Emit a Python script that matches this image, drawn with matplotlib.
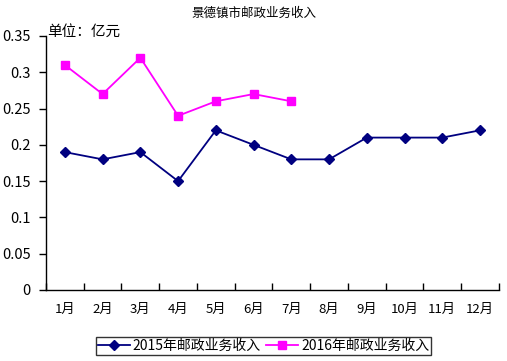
import matplotlib
matplotlib.use("Agg")
import matplotlib.pyplot as plt
from matplotlib.ticker import FixedLocator

plt.rcParams["font.family"] = ["Noto Sans CJK SC", "DejaVu Sans"]

months = ["1月", "2月", "3月", "4月", "5月", "6月", "7月", "8月", "9月", "10月", "11月", "12月"]
income_2015 = [0.19, 0.18, 0.19, 0.15, 0.22, 0.20, 0.18, 0.18, 0.21, 0.21, 0.21, 0.22]
income_2016 = [0.31, 0.27, 0.32, 0.24, 0.26, 0.27, 0.26]
y_ticks = [0, 0.05, 0.1, 0.15, 0.2, 0.25, 0.3, 0.35]
y_labels = ["0", "0.05", "0.1", "0.15", "0.2", "0.25", "0.3", "0.35"]

fig = plt.figure(figsize=(5.07, 3.61), dpi=100)
ax = fig.add_axes([0.0907, 0.1967, 0.8933, 0.7036])

x15 = list(range(len(income_2015)))
x16 = list(range(len(income_2016)))
ax.plot(x15, income_2015, color="#000080", lw=1.3, marker="D", ms=5,
        label="2015年邮政业务收入", clip_on=False)
ax.plot(x16, income_2016, color="#FF00FF", lw=1.3, marker="s", ms=6,
        label="2016年邮政业务收入", clip_on=False)

ax.set_xlim(-0.5, len(months) - 0.5)
ax.set_ylim(0, 0.35)
ax.set_yticks(y_ticks)
ax.set_yticklabels(y_labels)
ax.set_xticks(x15)
ax.set_xticklabels(months)
ax.xaxis.set_minor_locator(FixedLocator([i + 0.5 for i in range(-1, len(months))]))
ax.tick_params(axis="x", which="major", length=0, labelsize=9.5, pad=9)
ax.tick_params(axis="x", which="minor", direction="in", length=5, width=1)
ax.tick_params(axis="y", direction="out", length=5, width=1, labelsize=10.5, pad=6)

for side in ("top", "right"):
    ax.spines[side].set_visible(False)
for side in ("left", "bottom"):
    ax.spines[side].set_linewidth(1)
    ax.spines[side].set_color("black")

fig.text(0.5, 0.962, "景德镇市邮政业务收入", ha="center", va="center", fontsize=9)
fig.text(0.093, 0.912, "单位：亿元", ha="left", va="center", fontsize=10.5)

leg = ax.legend(loc="center", bbox_to_anchor=(0.52, 0.042), bbox_transform=fig.transFigure,
                ncol=2, fontsize=10, frameon=True, fancybox=False, handlelength=2.3,
                handletextpad=0.2, columnspacing=0.4, borderpad=0.15, borderaxespad=0)
leg.get_frame().set_edgecolor("black")
leg.get_frame().set_linewidth(1)

fig.savefig("out.png", dpi=100)
